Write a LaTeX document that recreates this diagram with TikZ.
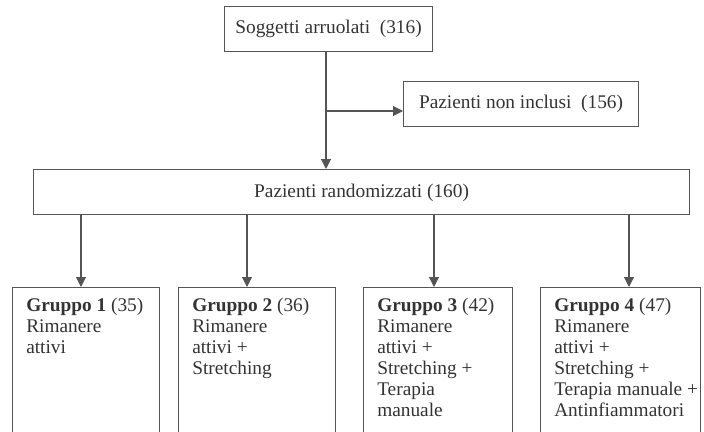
\documentclass[tikz,border=0pt]{standalone}
\usepackage{fontspec}
\setmainfont{Liberation Serif}
\usetikzlibrary{arrows.meta}
\definecolor{ln}{HTML}{555555}
\definecolor{tx}{HTML}{333333}
\begin{document}
\begin{tikzpicture}[x=0.75pt,y=-0.75pt,
  box/.style={draw=ln,line width=0.8pt,inner sep=0pt,anchor=north west},
  lbl/.style={text=tx,font=\fontsize{14.5}{15.75}\selectfont,inner sep=0pt},
  grp/.style={text=tx,font=\fontsize{14.5}{15.75}\selectfont,inner sep=0pt,anchor=north west,align=left},
  arr/.style={draw=ln,line width=0.8pt,-{Triangle[width=7.5pt,length=7.5pt]}},
  ln/.style={draw=ln,line width=0.8pt}]
\useasboundingbox (0,0) rectangle (704,432);
\clip (0,0) rectangle (704,432);
% boxes
\node[box,minimum width=208*0.75pt,minimum height=45*0.75pt] (top) at (224,6) {};
\node[lbl] (toptx) at (top.center) {Soggetti arruolati\ \ (316)};
\node[box,minimum width=235*0.75pt,minimum height=45*0.75pt] (excl) at (403,81) {};
\node[lbl] (excltx) at (excl.center) {Pazienti non inclusi\ \ (156)};
\node[box,minimum width=656*0.75pt,minimum height=45*0.75pt] (rand) at (33,169) {};
\node[lbl] at ([yshift=-1*0.75pt]rand.center) {Pazienti randomizzati (160)};
\node[box,minimum width=147*0.75pt,minimum height=170*0.75pt] (g1) at (12,287) {};
\node[box,minimum width=157*0.75pt,minimum height=170*0.75pt] (g2) at (178,287) {};
\node[box,minimum width=149*0.75pt,minimum height=170*0.75pt] (g3) at (363,287) {};
\node[box,minimum width=160*0.75pt,minimum height=170*0.75pt] (g4) at (540,287) {};
\node[grp] (t1) at ([xshift=14*0.75pt,yshift=-11*0.75pt]g1.north west) {\textbf{Gruppo 1} (35)\\Rimanere\\attivi};
\node[grp] (t2) at ([xshift=14*0.75pt,yshift=-11*0.75pt]g2.north west) {\textbf{Gruppo 2} (36)\\Rimanere\\attivi +\\Stretching};
\node[grp] (t3) at ([xshift=14*0.75pt,yshift=-11*0.75pt]g3.north west) {\textbf{Gruppo 3} (42)\\Rimanere\\attivi +\\Stretching +\\Terapia\\manuale};
\node[grp] (t4) at ([xshift=14*0.75pt,yshift=-11*0.75pt]g4.north west) {\textbf{Gruppo 4} (47)\\Rimanere\\attivi +\\Stretching +\\Terapia manuale +\\Antinfiammatori};
% connectors
\coordinate (m) at (326,0);
\coordinate (br) at (0,111);
\draw[arr] (top.south -| m) -- (rand.north -| m);
\draw[arr] (br -| m) -- (br -| excl.west);
\coordinate (a1) at (81,0);
\coordinate (a2) at (247,0);
\coordinate (a3) at (434,0);
\coordinate (a4) at (629,0);
\draw[arr] (rand.south -| a1) -- (g1.north -| a1);
\draw[arr] (rand.south -| a2) -- (g2.north -| a2);
\draw[arr] (rand.south -| a3) -- (g3.north -| a3);
\draw[arr] (rand.south -| a4) -- (g4.north -| a4);
\end{tikzpicture}
\end{document}
